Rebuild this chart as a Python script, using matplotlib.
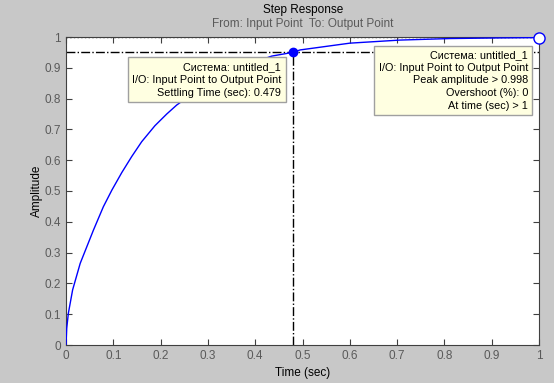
import matplotlib
matplotlib.use("Agg")
import matplotlib.pyplot as plt
import numpy as np

# step response
t = [0.0, 0.0015, 0.005, 0.014, 0.030, 0.044, 0.058, 0.079, 0.097, 0.118,
     0.139, 0.160, 0.188, 0.213, 0.234, 0.28, 0.33, 0.38, 0.435, 0.479,
     0.495, 0.600, 0.706, 0.812, 0.918, 1.0]
y = [0.0, 0.054, 0.103, 0.179, 0.265, 0.319, 0.373, 0.449, 0.503, 0.560,
     0.612, 0.660, 0.712, 0.750, 0.779, 0.830, 0.875, 0.908, 0.938, 0.950,
     0.958, 0.980, 0.990, 0.995, 0.997, 0.998]

settle_t = 0.479
settle_y = 0.95
peak_t = 1.0
peak_y = 0.998
final_y = 1.0

ticks = np.round(np.arange(0, 1.01, 0.1), 1)
tick_labels = ['0', '0.1', '0.2', '0.3', '0.4', '0.5', '0.6', '0.7', '0.8', '0.9', '1']

box1 = 'Система: untitled_1\nI/O: Input Point to Output Point\nSettling Time (sec): 0.479'
box2 = ('Система: untitled_1\nI/O: Input Point to Output Point\nPeak amplitude > 0.998\n'
        'Overshoot (%): 0\nAt time (sec) > 1')

plt.rcParams['font.family'] = ['Liberation Sans', 'DejaVu Sans']
bg = '#c8c8c8'
grey = '#5a5a5a'

fig = plt.figure(figsize=(5.54, 3.83), dpi=100, facecolor=bg)
ax = fig.add_axes([66/554, 1-345/383, 473/554, 308/383])

ax.plot(t, y, color='#0000ff', lw=1, zorder=3)
ax.axhline(final_y, color='k', ls=':', lw=1, zorder=2)
ax.plot([0, 1], [settle_y, settle_y], color='k', ls='-.', lw=1, zorder=2)
ax.plot([settle_t, settle_t], [0, settle_y], color='k', ls='-.', lw=1, zorder=2)
ax.plot([settle_t], [settle_y], 'o', color='#0000ff', ms=6, zorder=5)
ax.plot([peak_t], [peak_y], 'o', mfc='white', mec='#0000ff', ms=8, mew=1,
        zorder=5, clip_on=False)

ax.set_xlim(0, 1)
ax.set_ylim(0, 1)
ax.set_xticks(ticks)
ax.set_xticklabels(tick_labels)
ax.set_yticks(ticks)
ax.set_yticklabels(tick_labels)
ax.tick_params(direction='in', length=4, top=True, right=True, labelsize=8.5,
               labelcolor=grey, color='#404040')
for s in ax.spines.values():
    s.set_color('#404040')

ax.set_xlabel('Time (sec)', fontsize=8.5, labelpad=4)
ax.set_ylabel('Amplitude', fontsize=8.5, labelpad=1.5)
fig.text(0.5 + 0.047, 1-10/383, 'Step Response', ha='center', va='center', fontsize=8.5)
fig.text(0.5 + 0.047, 1-24/383, 'From: Input Point  To: Output Point', ha='center',
         va='center', fontsize=8.5, color=grey)

bb = dict(boxstyle='square,pad=0.4', fc='#ffffe1', ec='#a0a0a0', lw=1)
ax.text(0.455, 0.920, box1, ha='right', va='top', fontsize=7.8, linespacing=1.38,
        multialignment='right', bbox=bb, zorder=6)
ax.text(0.977, 0.958, box2, ha='right', va='top', fontsize=7.8, linespacing=1.34,
        multialignment='right', bbox=bb, zorder=6)

fig.savefig('out.png', dpi=100, facecolor=bg)
